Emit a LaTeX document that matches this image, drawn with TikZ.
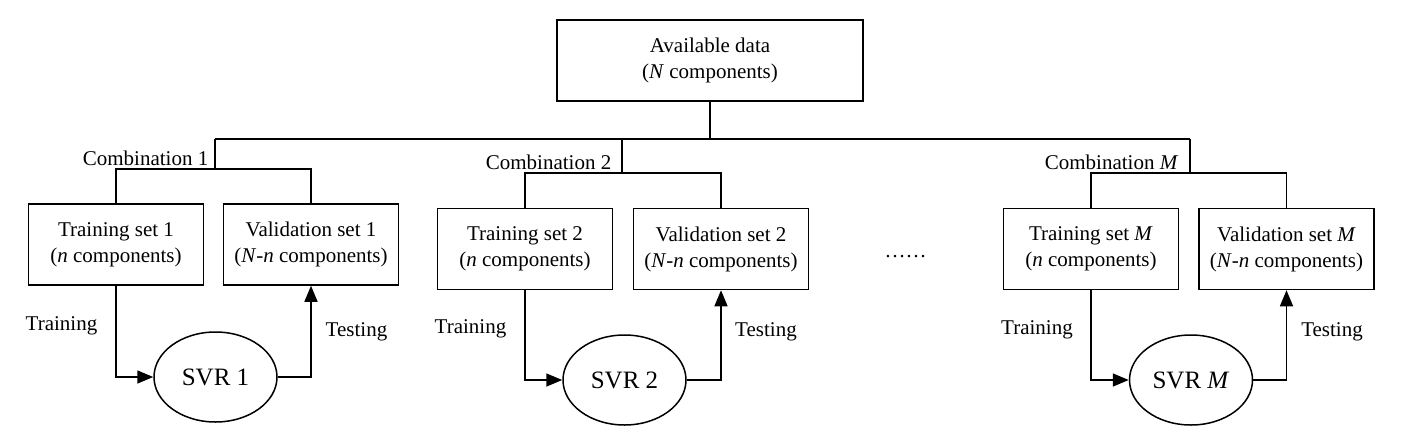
\documentclass[tikz,border=0pt]{standalone}
\usepackage{fontspec}
\setmainfont{Liberation Serif}
\usetikzlibrary{arrows.meta,shapes.geometric}
\begin{document}
\begin{tikzpicture}[x=1pt,y=-1pt,
  line width=1.5pt,
  txt/.style={font=\fontsize{21}{26}\selectfont, inner sep=0pt},
  databox/.style={draw, rectangle, minimum width=175pt, minimum height=81pt, align=center, font=\fontsize{21}{26}\selectfont, inner sep=0pt},
  svr/.style={draw, ellipse, minimum width=123pt, minimum height=90pt, inner sep=0pt, font=\fontsize{25}{30}\selectfont},
  arr/.style={-{Triangle[length=16pt,width=13pt]}}
]
\useasboundingbox (0,0) rectangle (1401,445);
% top
\node[databox, minimum width=306pt] (top) at (710,60.5) {Available data\\(\textit{N} components)};
% group 1
\node[databox] (t1) at (116,244.5) {Training set 1\\(\textit{n} components)};
\node[databox] (v1) at (311,244.5) {Validation set 1\\(\textit{N}-\textit{n} components)};
\node[svr] (e1) at (215.5,377) {SVR 1};
% group 2
\node[databox] (t2) at (525,249) {Training set 2\\(\textit{n} components)};
\node[databox] (v2) at (721,249) {Validation set 2\\(\textit{N}-\textit{n} components)};
\node[svr] (e2) at (624.5,380) {SVR 2};
% group M
\node[databox] (tM) at (1091,249) {Training set \textit{M}\\(\textit{n} components)};
\node[databox] (vM) at (1286.5,249) {Validation set \textit{M}\\(\textit{N}-\textit{n} components)};
\node[svr] (eM) at (1191,380) {SVR \textit{M}};
% junctions
\coordinate (j0) at (710,139);
\coordinate (c1) at (215,139);
\coordinate (c2) at (622,139);
\coordinate (cM) at (1190,139);
\coordinate (b1) at (215,169);
\coordinate (b2) at (622,173);
\coordinate (bM) at (1190,173);
\draw (top.south) -- (j0);
\draw (c1) -- (cM);
\draw (c1) -- (b1);
\draw (c2) -- (b2);
\draw (cM) -- (bM);
\draw (t1.north) |- (b1) -| (v1.north);
\draw (t2.north) |- (b2) -| (v2.north);
\draw (tM.north) |- (bM) -| (vM.north);
% arrows
\draw[arr] (t1.south) |- (e1.west);
\draw[arr] (e1.east) -| (v1.south);
\draw[arr] (t2.south) |- (e2.west);
\draw[arr] (e2.east) -| (v2.south);
\draw[arr] (tM.south) |- (eM.west);
\draw[arr] (eM.east) -| (vM.south);
% labels
\node[txt, anchor=east] (l1) at (209,158) {Combination 1};
\node[txt, anchor=east] (l2) at (612,162) {Combination 2};
\node[txt, anchor=east] (lM) at (1179,162) {Combination \textit{M}};
\node[txt] (tr1) at (61.5,326) {Training};
\node[txt] (te1) at (356.5,332) {Testing};
\node[txt] (tr2) at (470.5,329) {Training};
\node[txt] (te2) at (766,332) {Testing};
\node[txt] (trM) at (1037,330) {Training};
\node[txt] (teM) at (1332,332) {Testing};
\node[txt, anchor=base] (dots) at (905.5,257) {……};
\end{tikzpicture}
\end{document}
